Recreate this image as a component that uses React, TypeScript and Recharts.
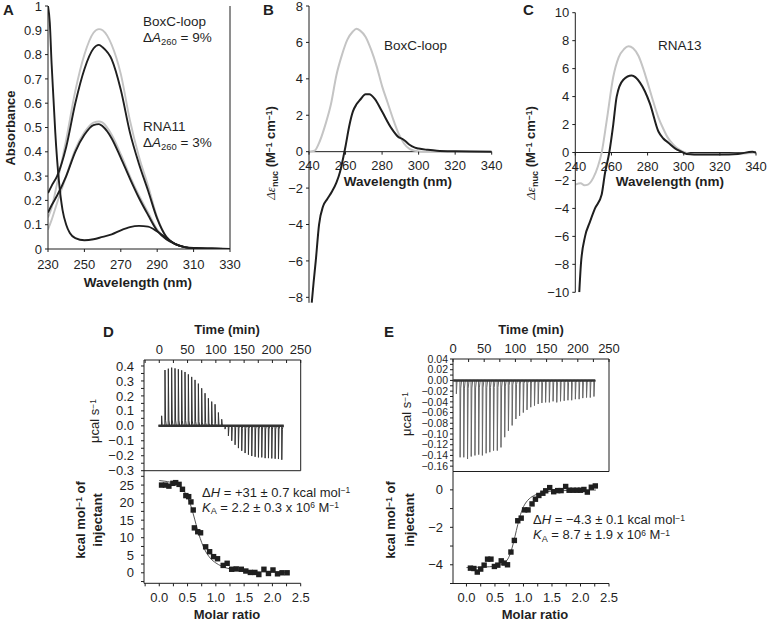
import React from "react";
import { LineChart, ComposedChart, Line, Scatter, XAxis, YAxis, ReferenceLine } from "recharts";

const FONT = "'Liberation Sans', Arial, Helvetica, sans-serif";
const W = 767;
const H = 621;
const INK = "#1f1f1f";
const GREY = "#c4c4c4";

// A: absorbance spectra
const absWl = [230, 232, 235, 240, 245, 250, 255, 258, 260, 265, 270, 275, 280, 285, 290, 295, 300, 305, 310, 320, 330];
const boxcFree = [0.13, 0.17, 0.27, 0.45, 0.65, 0.8, 0.89, 0.905, 0.9, 0.84, 0.72, 0.53, 0.38, 0.26, 0.13, 0.05, 0.02, 0.008, 0.004, 0.002, 0];
const boxcBound = [0.23, 0.26, 0.3, 0.42, 0.6, 0.74, 0.825, 0.84, 0.83, 0.78, 0.655, 0.48, 0.35, 0.24, 0.125, 0.05, 0.02, 0.008, 0.004, 0.002, 0];
const rna11Free = [0.08, 0.12, 0.19, 0.3, 0.41, 0.48, 0.52, 0.525, 0.52, 0.47, 0.39, 0.3, 0.22, 0.15, 0.08, 0.04, 0.02, 0.008, 0.003, 0.001, 0];
const rna11Bound = [0.15, 0.18, 0.22, 0.3, 0.4, 0.47, 0.51, 0.514, 0.505, 0.455, 0.375, 0.29, 0.21, 0.14, 0.075, 0.04, 0.02, 0.008, 0.003, 0.001, 0];
const proteinWl = [230, 231, 232, 233, 234, 236, 238, 240, 242, 245, 250, 255, 260, 265, 270, 275, 280, 285, 290, 295, 300, 305, 310, 320, 330];
const proteinAbs = [1.0, 0.93, 0.76, 0.62, 0.48, 0.28, 0.16, 0.1, 0.066, 0.045, 0.036, 0.04, 0.05, 0.06, 0.077, 0.09, 0.095, 0.092, 0.072, 0.045, 0.02, 0.008, 0.003, 0.001, 0];
const absXTicks = [230, 250, 270, 290, 310, 330];
const absYTicks = [0, 0.1, 0.2, 0.3, 0.4, 0.5, 0.6, 0.7, 0.8, 0.9, 1];

// B: CD of BoxC-loop
const boxcCdWlFree = [240, 243, 246, 249, 252, 255, 258, 261, 264, 266, 268, 271, 274, 277, 280, 283, 286, 289, 292, 295, 298, 302, 310, 320, 340];
const boxcCdFree = [0, 0.05, 0.6, 1.5, 2.6, 4.2, 5.3, 6.15, 6.6, 6.75, 6.65, 6.3, 5.6, 4.7, 3.6, 2.7, 1.8, 1.0, 0.45, 0.15, 0.05, 0, 0, 0, 0];
const boxcCdWlBound = [241.5, 242.5, 243.7, 245.5, 247.7, 250, 252.5, 255, 257, 259, 260, 262, 264, 266, 268, 271, 273, 276, 280, 285, 289, 291, 292.5, 295, 298, 300, 305, 310, 320, 340];
const boxcCdBound = [-8.3, -7.2, -6, -4, -3.0, -2.6, -2.2, -1.7, -1.1, -0.2, 0.3, 1.4, 2.2, 2.6, 2.85, 3.15, 3.15, 2.9, 2.2, 1.3, 0.8, 0.7, 0.6, 0.38, 0.22, 0.17, 0.1, 0.05, 0.02, 0];
const boxcCdYTicks = [-8, -6, -4, -2, 0, 2, 4, 6, 8];

// C: CD of RNA13
const rna13WlFree = [240, 243, 245, 247, 250, 252.5, 254.6, 257.4, 261, 264, 267, 269.5, 272, 275, 277.6, 280, 283, 286, 288.7, 291, 294, 296.5, 299, 302, 306, 315, 325, 335, 340];
const rna13Free = [-2.3, -2.2, -2.35, -2.3, -1.8, -1.0, 0, 2.3, 5.4, 6.8, 7.4, 7.6, 7.45, 6.9, 6.0, 5.0, 3.7, 2.5, 1.7, 1.1, 0.6, 0.3, 0.1, -0.05, -0.15, -0.15, -0.1, -0.05, 0];
const rna13WlBound = [242.2, 243.1, 245.4, 248, 250.9, 254.6, 256.4, 258.8, 261, 262.9, 266.6, 271.2, 275.8, 281.3, 286, 288.7, 291.5, 295.2, 298, 301.6, 310, 320, 330, 338, 340];
const rna13Bound = [-10, -8, -6, -5, -4, -3, -1.5, 0, 2, 4, 5.2, 5.5, 5.0, 3.5, 1.5, 1.0, 0.7, 0.3, 0.1, -0.1, -0.15, -0.15, -0.1, 0.05, 0];
const rna13YTicks = [-10, -8, -6, -4, -2, 0, 2, 4, 6, 8, 10];
const cdXTicks = [240, 260, 280, 300, 320, 340];

// D: ITC, positive enthalpy
const dInjTimes = [4.2, 10.1, 16.0, 21.9, 27.8, 33.7, 39.6, 45.5, 51.4, 57.3, 63.2, 69.1, 75.0, 80.9, 86.8, 92.7, 98.6, 104.5, 110.4, 116.3, 122.2, 128.1, 134.0, 139.9, 145.8, 151.7, 157.6, 163.5, 169.4, 175.3, 181.2, 187.1, 193.0, 198.9, 204.8, 210.7, 216.6];
const dInjPeaks = [0.067, 0.373, 0.382, 0.389, 0.384, 0.378, 0.371, 0.36, 0.344, 0.327, 0.307, 0.282, 0.251, 0.218, 0.184, 0.162, 0.144, 0.089, 0.044, -0.022, -0.067, -0.1, -0.127, -0.149, -0.167, -0.182, -0.193, -0.202, -0.207, -0.211, -0.211, -0.216, -0.216, -0.218, -0.22, -0.222, -0.227];
const dRatio = [0.04, 0.11, 0.17, 0.24, 0.29, 0.35, 0.41, 0.47, 0.52, 0.56, 0.6, 0.62, 0.68, 0.73, 0.82, 0.89, 0.96, 1.03, 1.13, 1.2, 1.28, 1.36, 1.45, 1.53, 1.61, 1.69, 1.76, 1.85, 1.93, 2.01, 2.09, 2.17, 2.26];
const dHeat = [25.0, 25.0, 24.7, 25.5, 25.7, 25.2, 23.8, 22.0, 21.7, 20.2, 17.9, 12.8, 11.7, 11.4, 7.4, 6.0, 4.6, 4.0, 2.1, 2.7, 1.0, 1.1, 1.0, 0.5, 0.1, 0.1, -0.5, 1.0, -0.2, 0.8, -0.3, 0.0, 0.0];
const dFitRatio = [0, 0.1, 0.2, 0.3, 0.4, 0.45, 0.5, 0.55, 0.6, 0.65, 0.7, 0.75, 0.8, 0.9, 1.0, 1.1, 1.2, 1.4, 1.6, 1.8, 2.0, 2.27];
const dFitHeat = [26.3, 26.1, 25.8, 25.2, 24.0, 23.0, 21.5, 19.5, 16.8, 13.8, 11.0, 8.6, 6.7, 4.2, 2.8, 1.9, 1.3, 0.7, 0.4, 0.25, 0.15, 0.1];
const dTimeTicks = [-25, 0, 25, 50, 75, 100, 125, 150, 175, 200, 225, 250];
const dPowerTicks = [-0.3, -0.25, -0.2, -0.15, -0.1, -0.05, 0, 0.05, 0.1, 0.15, 0.2, 0.25, 0.3, 0.35, 0.4];
const dHeatTicks = [-2.5, 0, 2.5, 5, 7.5, 10, 12.5, 15, 17.5, 20, 22.5, 25, 27.5];
const dRatioTicks = [-0.25, 0, 0.25, 0.5, 0.75, 1, 1.25, 1.5, 1.75, 2, 2.25, 2.5];

// E: ITC, negative enthalpy
const eInjTimes = [5.4, 11.4, 17.3, 23.3, 29.2, 35.2, 41.2, 47.1, 53.1, 59.0, 65.0, 71.0, 76.9, 82.9, 88.8, 94.8, 100.8, 106.7, 112.7, 118.6, 124.6, 130.6, 136.5, 142.5, 148.4, 154.4, 160.4, 166.3, 172.3, 178.2, 184.2, 190.2, 196.1, 202.1, 208.0, 214.0, 220.0, 225.9];
const eInjPeaks = [-0.025, -0.1435, -0.1435, -0.1466, -0.142, -0.14, -0.1385, -0.14, -0.136, -0.134, -0.131, -0.131, -0.125, -0.106, -0.094, -0.084, -0.072, -0.066, -0.06, -0.055, -0.05, -0.047, -0.044, -0.042, -0.041, -0.041, -0.039, -0.041, -0.039, -0.038, -0.037, -0.037, -0.035, -0.035, -0.033, -0.032, -0.032, -0.03];
const eRatio = [0.07, 0.13, 0.19, 0.25, 0.31, 0.37, 0.43, 0.49, 0.55, 0.61, 0.66, 0.72, 0.78, 0.84, 0.9, 0.96, 1.02, 1.08, 1.15, 1.21, 1.27, 1.34, 1.39, 1.46, 1.53, 1.6, 1.66, 1.74, 1.8, 1.87, 1.94, 2.0, 2.06, 2.12, 2.19, 2.26];
const eHeat = [-4.18, -4.2, -4.39, -4.23, -4.02, -3.7, -3.7, -4.09, -4.02, -3.79, -3.91, -4.0, -3.32, -2.7, -1.65, -1.51, -1.07, -1.07, -0.75, -0.5, -0.3, -0.18, -0.05, 0.12, -0.1, -0.04, -0.04, 0.18, -0.02, -0.02, -0.02, -0.02, 0.02, -0.12, 0.14, 0.21];
const eFitRatio = [0, 0.3, 0.5, 0.6, 0.7, 0.75, 0.8, 0.85, 0.9, 0.95, 1.0, 1.05, 1.1, 1.2, 1.3, 1.4, 1.6, 2.0, 2.27];
const eFitHeat = [-4.15, -4.12, -4.08, -4.0, -3.8, -3.55, -3.1, -2.5, -1.85, -1.3, -0.9, -0.65, -0.48, -0.28, -0.17, -0.1, -0.05, -0.02, -0.01];
const eTimeTicks = [0, 25, 50, 75, 100, 125, 150, 175, 200, 225, 250];
const ePowerTicks = [-0.16, -0.15, -0.14, -0.13, -0.12, -0.11, -0.1, -0.09, -0.08, -0.07, -0.06, -0.05, -0.04, -0.03, -0.02, -0.01, 0, 0.01, 0.02, 0.03, 0.04];
const eHeatTicks = [-5, -4, -3, -2, -1, 0];
const eRatioTicks = [0, 0.25, 0.5, 0.75, 1, 1.25, 1.5, 1.75, 2, 2.25, 2.5];

const zip = (xs: number[], ys: number[]) => xs.map((x, i) => ({ x, y: ys[i] }));

// each injection drawn as a thin spike on the baseline
const itcTrace = (times: number[], peaks: number[], start: number, end: number) => {
  const pts = [{ x: start, y: 0 }];
  times.forEach((t, i) => {
    pts.push({ x: t - 0.3, y: 0 }, { x: t, y: peaks[i] }, { x: t + 1, y: peaks[i] * 0.1 }, { x: t + 2.4, y: 0 });
  });
  pts.push({ x: end, y: 0 });
  return pts;
};

const minus = (s: string) => s.replace("-", "\u2212");
const every = (step: number, digits: number) => (v: number) =>
  Math.abs(v / step - Math.round(v / step)) < 1e-6 ? minus(v.toFixed(digits)) : "";
const fmtAbs = (v: number) => (v === 0 || v === 1 ? String(v) : v.toFixed(1));
const fmtInt = (v: number) => minus(String(v));

// plot box in page pixels -> chart margins (axes are 1px thick so they render)
const frame = (l: number, t: number, r: number, b: number, top = false, right = false) => ({
  left: l - 1,
  top: top ? t - 1 : t,
  right: right ? W - r - 1 : W - r,
  bottom: H - b - 1,
});

const tickFont = { fontSize: 13, fill: INK };

const zeroLineTick = (zeroY: number) => (props: any) => (
  <g>
    <line x1={props.x} x2={props.x} y1={zeroY} y2={zeroY + 3} stroke={INK} />
    <text x={props.x} y={zeroY + 18} textAnchor="middle" fontSize={13} fill={INK}>
      {props.payload.value}
    </text>
  </g>
);

const square = (p: any) => <rect x={p.cx - 2.7} y={p.cy - 2.7} width={5.4} height={5.4} fill={INK} />;

function Layer({ children }: { children: React.ReactNode }) {
  return <div style={{ position: "absolute", left: 0, top: 0 }}>{children}</div>;
}

function Txt({ x, y, children, size = 13, bold = false, center = false, rotate = false, lh = 1.15, style = {} }: {
  x: number; y: number; children: React.ReactNode; size?: number; bold?: boolean; center?: boolean; rotate?: boolean; lh?: number | string; style?: React.CSSProperties;
}) {
  const transform = rotate ? "translate(-50%, -50%) rotate(-90deg)" : center ? "translate(-50%, -50%)" : "translate(0, -50%)";
  return (
    <div style={{ position: "absolute", left: x, top: y, transform, fontSize: size, fontWeight: bold ? 700 : 400, lineHeight: lh, whiteSpace: "nowrap", color: INK, ...style }}>
      {children}
    </div>
  );
}
const Sup = ({ children }: { children: React.ReactNode }) => <span style={{ fontSize: "0.65em", position: "relative", top: "-0.4em" }}>{children}</span>;
const Sub = ({ children }: { children: React.ReactNode }) => <span style={{ fontSize: "0.7em", position: "relative", top: "0.3em" }}>{children}</span>;

function PanelA() {
  const curves = [
    { wl: absWl, v: boxcFree, c: GREY },
    { wl: absWl, v: rna11Free, c: GREY },
    { wl: absWl, v: boxcBound, c: INK },
    { wl: absWl, v: rna11Bound, c: INK },
  ];
  return (
    <LineChart width={W} height={H} margin={frame(48, 6, 230, 249, false, true)}>
      <XAxis xAxisId="x" type="number" dataKey="x" domain={[230, 330]} ticks={absXTicks} interval={0} height={1} stroke={INK} tickSize={3} tickMargin={8} tick={tickFont} allowDataOverflow />
      <YAxis yAxisId="y" type="number" dataKey="y" domain={[0, 1]} ticks={absYTicks} interval={0} width={1} stroke={INK} tickSize={3} tickMargin={3} tick={tickFont} tickFormatter={fmtAbs} allowDataOverflow />
      <YAxis yAxisId="r" orientation="right" type="number" dataKey="y" domain={[0, 1]} width={1} stroke={INK} tick={false} tickLine={false} allowDataOverflow />
      {curves.map((c, i) => (
        <Line key={i} xAxisId="x" yAxisId="y" data={zip(c.wl, c.v)} dataKey="y" type="monotone" stroke={c.c} strokeWidth={1.9} dot={false} isAnimationActive={false} />
      ))}
      <Line xAxisId="x" yAxisId="r" data={zip(proteinWl, proteinAbs)} dataKey="y" type="monotone" stroke={INK} strokeWidth={1.9} dot={false} isAnimationActive={false} />
    </LineChart>
  );
}

function CdPanel({ l, t, r, b, yDomain, yTicks, free, bound }: {
  l: number; t: number; r: number; b: number; yDomain: [number, number]; yTicks: number[];
  free: { x: number; y: number }[]; bound: { x: number; y: number }[];
}) {
  const zeroY = t + (yDomain[1] / (yDomain[1] - yDomain[0])) * (b - t);
  return (
    <LineChart width={W} height={H} margin={frame(l, t, r, b)}>
      <XAxis xAxisId="x" type="number" dataKey="x" domain={[240, 340]} ticks={cdXTicks} interval={0} height={1} axisLine={false} tickLine={false} tick={zeroLineTick(zeroY)} allowDataOverflow />
      <YAxis yAxisId="y" type="number" dataKey="y" domain={yDomain} ticks={yTicks} interval={0} width={1} stroke={INK} tickSize={3} tickMargin={3} tick={tickFont} tickFormatter={fmtInt} allowDataOverflow />
      <ReferenceLine xAxisId="x" yAxisId="y" y={0} stroke={INK} strokeWidth={1} />
      <Line xAxisId="x" yAxisId="y" data={free} dataKey="y" type="monotone" stroke={GREY} strokeWidth={2} dot={false} isAnimationActive={false} />
      <Line xAxisId="x" yAxisId="y" data={bound} dataKey="y" type="monotone" stroke={INK} strokeWidth={2} dot={false} isAnimationActive={false} />
    </LineChart>
  );
}

function RawPanel({ l, t, r, b, xDomain, yDomain, xTicks, yTicks, yFmt, yFont, trace, base, color }: {
  l: number; t: number; r: number; b: number; xDomain: [number, number]; yDomain: [number, number];
  xTicks: number[]; yTicks: number[]; yFmt: (v: number) => string; yFont: number;
  trace: { x: number; y: number }[]; base: { x: number; y: number }[]; color: string;
}) {
  return (
    <LineChart width={W} height={H} margin={frame(l, t, r, b, true, true)}>
      <XAxis xAxisId="t" orientation="top" type="number" dataKey="x" domain={xDomain} ticks={xTicks} interval={0} height={1} stroke={INK} tickSize={-3} tickMargin={9.5} tick={tickFont} tickFormatter={every(50, 0)} allowDataOverflow />
      <XAxis xAxisId="b" type="number" dataKey="x" domain={xDomain} ticks={xTicks} interval={0} height={1} stroke={INK} tickSize={-3} tick={false} allowDataOverflow />
      <YAxis yAxisId="l" type="number" dataKey="y" domain={yDomain} ticks={yTicks} interval={0} width={1} stroke={INK} tickSize={3} tickMargin={yFont < 12 ? 2 : 7} tick={{ fontSize: yFont, fill: INK }} tickFormatter={yFmt} allowDataOverflow />
      <YAxis yAxisId="r" orientation="right" type="number" dataKey="y" domain={yDomain} ticks={yTicks} interval={0} width={1} stroke={INK} tickSize={-3} tick={false} allowDataOverflow />
      <Line xAxisId="b" yAxisId="l" data={trace} dataKey="y" type="linear" stroke={color} strokeWidth={1} dot={false} isAnimationActive={false} />
      <Line xAxisId="t" yAxisId="r" data={base} dataKey="y" type="linear" stroke="#333" strokeWidth={2.4} dot={false} isAnimationActive={false} />
    </LineChart>
  );
}

function IsoPanel({ l, t, r, b, xDomain, yDomain, xTicks, yTicks, yFmt, pts, fit }: {
  l: number; t: number; r: number; b: number; xDomain: [number, number]; yDomain: [number, number];
  xTicks: number[]; yTicks: number[]; yFmt: (v: number) => string;
  pts: { x: number; y: number }[]; fit: { x: number; y: number }[];
}) {
  return (
    <ComposedChart width={W} height={H} margin={frame(l, t, r, b)}>
      <XAxis xAxisId="x" type="number" dataKey="x" domain={xDomain} ticks={xTicks} interval={0} height={1} stroke={INK} tickSize={3} tickMargin={6} tick={tickFont} tickFormatter={every(0.5, 1)} allowDataOverflow />
      <YAxis yAxisId="y" type="number" dataKey="y" domain={yDomain} ticks={yTicks} interval={0} width={1} stroke={INK} tickSize={3} tickMargin={7} tick={tickFont} tickFormatter={yFmt} allowDataOverflow />
      <Line xAxisId="x" yAxisId="y" data={fit} dataKey="y" type="monotone" stroke="#555" strokeWidth={1} dot={false} isAnimationActive={false} />
      <Scatter xAxisId="x" yAxisId="y" data={pts} dataKey="y" shape={square} isAnimationActive={false} />
    </ComposedChart>
  );
}

const DeltaEps = () => (
  <>
    <span style={{ fontFamily: "'Liberation Serif', serif", fontWeight: 400, fontStyle: "italic" }}>Δε</span>
    <Sub>nuc</Sub> (M<Sup>−1</Sup> cm<Sup>−1</Sup>)
  </>
);

export default function App() {
  return (
    <div style={{ position: "absolute", left: 0, top: 0, width: W, height: H, background: "#fff", fontFamily: FONT, color: INK, overflow: "hidden" }}>
      <Layer><PanelA /></Layer>
      <Layer>
        <CdPanel l={309} t={6} r={491.7} b={302.8} yDomain={[-8.3, 8]} yTicks={boxcCdYTicks} free={zip(boxcCdWlFree, boxcCdFree)} bound={zip(boxcCdWlBound, boxcCdBound)} />
      </Layer>
      <Layer>
        <CdPanel l={575.3} t={12.7} r={756} b={292.3} yDomain={[-10, 10]} yTicks={rna13YTicks} free={zip(rna13WlFree, rna13Free)} bound={zip(rna13WlBound, rna13Bound)} />
      </Layer>
      <Layer>
        <RawPanel l={144} t={360} r={300.7} b={470.7} xDomain={[-27, 250]} yDomain={[-0.3, 0.44]} xTicks={dTimeTicks} yTicks={dPowerTicks} yFmt={every(0.1, 1)} yFont={13}
          trace={itcTrace(dInjTimes, dInjPeaks, -1.5, 220)} base={[{ x: -1.5, y: 0 }, { x: 220, y: 0 }]} color="#333" />
      </Layer>
      <Layer>
        <IsoPanel l={144} t={470.7} r={300.7} b={583.3} xDomain={[-0.27, 2.5]} yDomain={[-3, 29.1]} xTicks={dRatioTicks} yTicks={dHeatTicks} yFmt={every(5, 0)}
          pts={zip(dRatio, dHeat)} fit={zip(dFitRatio, dFitHeat)} />
      </Layer>
      <Layer>
        <RawPanel l={453} t={359} r={609} b={471.5} xDomain={[0, 250]} yDomain={[-0.17, 0.04]} xTicks={eTimeTicks} yTicks={ePowerTicks} yFmt={every(0.02, 2)} yFont={10.5}
          trace={itcTrace(eInjTimes, eInjPeaks, 0.5, 228)} base={[{ x: 0.5, y: 0 }, { x: 228, y: 0 }]} color="#666" />
      </Layer>
      <Layer>
        <IsoPanel l={453} t={471.5} r={609} b={583.5} xDomain={[-0.236, 2.5]} yDomain={[-5, 0.98]} xTicks={eRatioTicks} yTicks={eHeatTicks} yFmt={every(2, 0)}
          pts={zip(eRatio, eHeat)} fit={zip(eFitRatio, eFitHeat)} />
      </Layer>

      {/* panel letters */}
      <Txt x={3} y={10} size={15} bold>A</Txt>
      <Txt x={263} y={10} size={15} bold>B</Txt>
      <Txt x={523} y={10} size={15} bold>C</Txt>
      <Txt x={103} y={332} size={15} bold>D</Txt>
      <Txt x={384} y={332} size={15} bold>E</Txt>

      {/* A */}
      <Txt x={11} y={128} bold rotate>Absorbance</Txt>
      <Txt x={138} y={283} size={13.5} bold center>Wavelength (nm)</Txt>
      <Txt x={143} y={22} size={13.5}>BoxC-loop</Txt>
      <Txt x={143} y={38} size={13.5}>Δ<i>A</i><Sub>260</Sub> = 9%</Txt>
      <Txt x={143} y={127} size={13.5}>RNA11</Txt>
      <Txt x={143} y={143} size={13.5}>Δ<i>A</i><Sub>260</Sub> = 3%</Txt>

      {/* B */}
      <Txt x={271} y={153} bold rotate><DeltaEps /></Txt>
      <Txt x={398} y={182} size={13.5} bold center>Wavelength (nm)</Txt>
      <Txt x={384} y={46} size={13.5}>BoxC-loop</Txt>

      {/* C */}
      <Txt x={531} y={153} bold rotate><DeltaEps /></Txt>
      <Txt x={670} y={182} size={13.5} bold center>Wavelength (nm)</Txt>
      <Txt x={658} y={46} size={13.5}>RNA13</Txt>

      {/* D */}
      <Txt x={227} y={330} bold center>Time (min)</Txt>
      <Txt x={95} y={421} rotate>μcal s<Sup>−1</Sup></Txt>
      <Txt x={81} y={520} bold rotate>kcal mol<Sup>−1</Sup> of</Txt>
      <Txt x={98} y={520} bold rotate>injectant</Txt>
      <Txt x={227} y={615} bold center>Molar ratio</Txt>
      <Txt x={202} y={492.5}>Δ<i>H</i> = +31 ± 0.7 kcal mol<Sup>−1</Sup></Txt>
      <Txt x={202} y={507.5}><i>K</i><Sub>A</Sub> = 2.2 ± 0.3 x 10<Sup>6</Sup> M<Sup>−1</Sup></Txt>

      {/* E */}
      <Txt x={531} y={330} bold center>Time (min)</Txt>
      <Txt x={407} y={414} rotate>μcal s<Sup>−1</Sup></Txt>
      <Txt x={391} y={520} bold rotate>kcal mol<Sup>−1</Sup> of</Txt>
      <Txt x={410} y={520} bold rotate>injectant</Txt>
      <Txt x={535} y={615} bold center>Molar ratio</Txt>
      <Txt x={533} y={520}>Δ<i>H</i> = −4.3 ± 0.1 kcal mol<Sup>−1</Sup></Txt>
      <Txt x={533} y={535}><i>K</i><Sub>A</Sub> = 8.7 ± 1.9 x 10<Sup>6</Sup> M<Sup>−1</Sup></Txt>
    </div>
  );
}
